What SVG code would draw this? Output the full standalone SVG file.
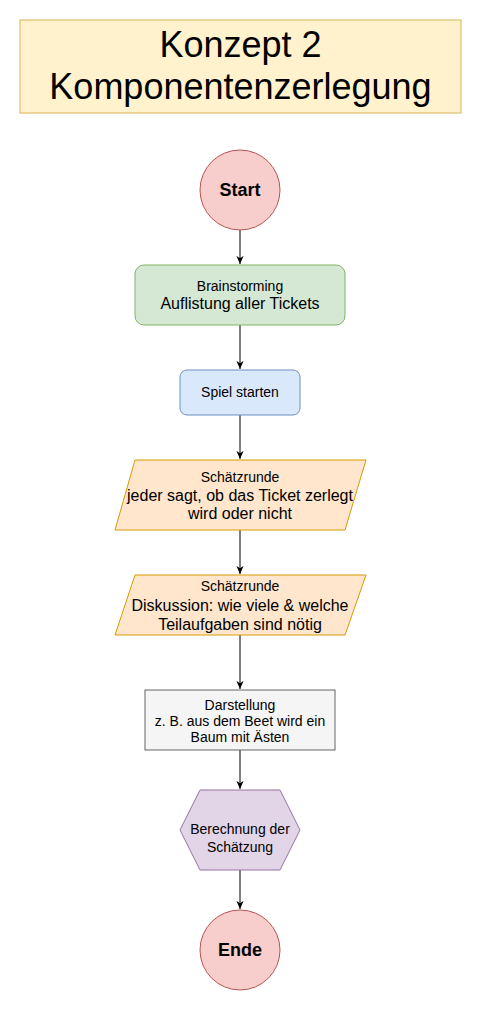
<svg xmlns="http://www.w3.org/2000/svg" width="481" height="1011" viewBox="0 0 481 1011">
<style>
text{font-family:"Liberation Sans",Arial,Helvetica,sans-serif;fill:#000;text-anchor:middle}
.s{font-size:14px}
.m{font-size:16px}
.l{font-size:16px}
.b{font-size:18px;font-weight:bold}
.t{font-size:36px}
.edge{stroke:#000;stroke-width:1;fill:none;marker-end:url(#arr)}
</style>
<defs>
<marker id="arr" viewBox="0 0 10 10" refX="9" refY="5" markerWidth="9" markerHeight="9" markerUnits="userSpaceOnUse" orient="auto">
<path d="M0,1 L9,5 L0,9 L2.5,5 Z" fill="#000"/>
</marker>
</defs>
<rect width="481" height="1011" fill="#fff"/>
<g id="title">
<rect x="20" y="20" width="441" height="93" fill="#fff2cc" stroke="#d6b656"/>
<text class="t" x="240.5" y="57">Konzept 2</text>
<text class="t" x="240.5" y="99">Komponentenzerlegung</text>
</g>
<g id="edges">
<path class="edge" d="M240,230 V264"/>
<path class="edge" d="M240,325 V369"/>
<path class="edge" d="M240,415 V459"/>
<path class="edge" d="M240,530 V574"/>
<path class="edge" d="M240,635 V689"/>
<path class="edge" d="M240,750 V789"/>
<path class="edge" d="M240,870 V909"/>
</g>
<g id="start">
<circle cx="240" cy="190" r="40" fill="#f8cecc" stroke="#b85450"/>
<text class="b" x="240" y="196">Start</text>
</g>
<g id="brainstorming">
<rect x="135" y="265" width="210" height="60" rx="9" fill="#d5e8d4" stroke="#82b366"/>
<text class="s" x="240" y="291">Brainstorming</text>
<text class="l" x="240" y="309">Auflistung aller Tickets</text>
</g>
<g id="spiel">
<rect x="180" y="370" width="120" height="45" rx="7" fill="#dae8fc" stroke="#6c8ebf"/>
<text class="s" x="240" y="397">Spiel starten</text>
</g>
<g id="schaetz1">
<polygon points="135,460 366,460 345,530 115,530" fill="#ffe6cc" stroke="#d79b00"/>
<text class="s" x="240" y="482">Schätzrunde</text>
<text class="m" x="240" y="501">jeder sagt, ob das Ticket zerlegt</text>
<text class="m" x="240" y="519">wird oder nicht</text>
</g>
<g id="schaetz2">
<polygon points="135,575 366,575 345,635 115,635" fill="#ffe6cc" stroke="#d79b00"/>
<text class="s" x="240" y="591">Schätzrunde</text>
<text class="m" x="240" y="611">Diskussion: wie viele &amp; welche</text>
<text class="m" x="240" y="630">Teilaufgaben sind nötig</text>
</g>
<g id="darstellung">
<rect x="145" y="690" width="190" height="60" fill="#f5f5f5" stroke="#666666"/>
<text class="s" x="240" y="710">Darstellung</text>
<text class="s" x="240" y="726">z. B. aus dem Beet wird ein</text>
<text class="s" x="240" y="742">Baum mit Ästen</text>
</g>
<g id="berechnung">
<polygon points="200,790 280,790 300,830 280,870 200,870 180,830" fill="#e1d5e7" stroke="#9673a6"/>
<text class="s" x="240" y="834">Berechnung der</text>
<text class="s" x="240" y="852">Schätzung</text>
</g>
<g id="ende">
<circle cx="240" cy="950" r="40" fill="#f8cecc" stroke="#b85450"/>
<text class="b" x="240" y="956">Ende</text>
</g>
</svg>
